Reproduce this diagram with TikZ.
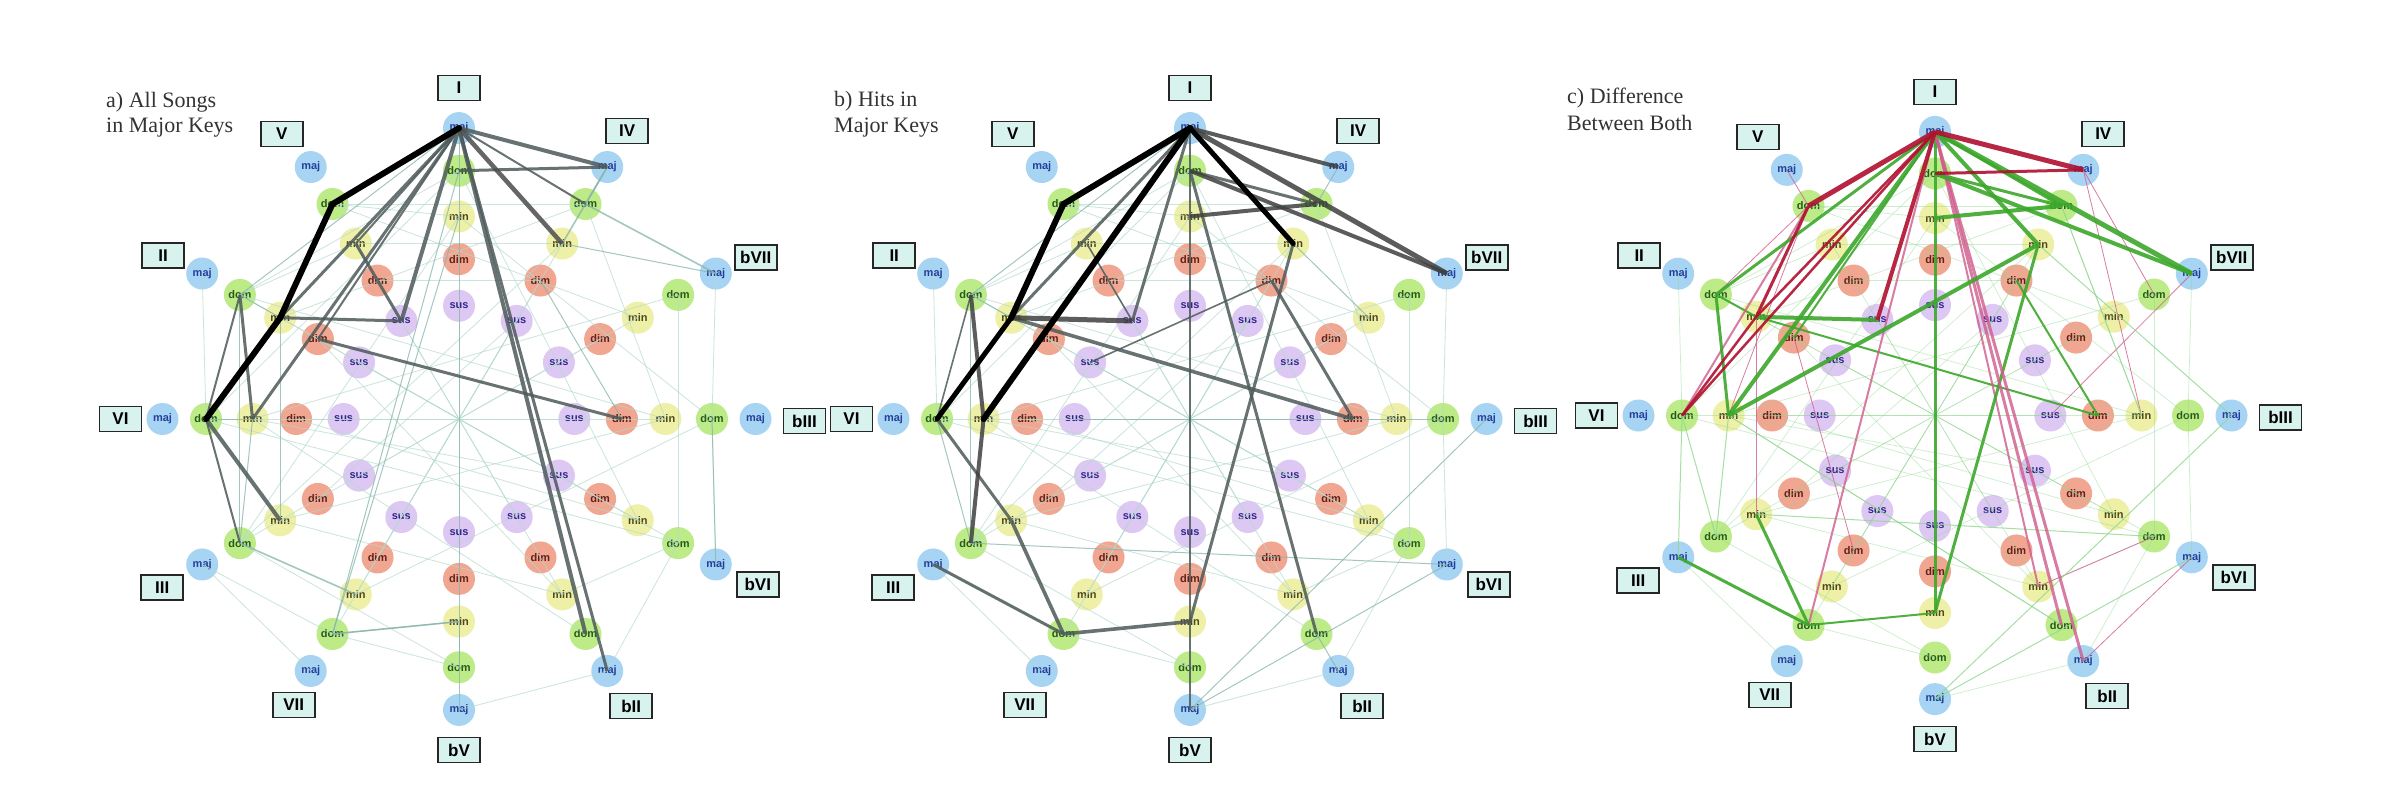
\documentclass[tikz,border=0pt]{standalone}
\usepackage{fontspec}
\setmainfont{Liberation Serif}
\setsansfont{Liberation Sans}
\definecolor{cmaj}{HTML}{A8D4F4}
\definecolor{cdom}{HTML}{BDEB88}
\definecolor{cmin}{HTML}{EEF0A8}
\definecolor{cdim}{HTML}{F0A690}
\definecolor{csus}{HTML}{DCC8F2}
\definecolor{tmaj}{HTML}{23409A}
\definecolor{tdom}{HTML}{285A1A}
\definecolor{tmin}{HTML}{504818}
\definecolor{tdim}{HTML}{60241A}
\definecolor{tsus}{HTML}{34268C}
\definecolor{lblfill}{HTML}{D8F2EE}
\definecolor{edgegray}{HTML}{4E5A5A}
\definecolor{edgeteal}{HTML}{86B4AC}
\definecolor{edgefaint}{HTML}{B4DACE}
\definecolor{ered}{HTML}{B01030}
\definecolor{epink}{HTML}{D05C8C}
\definecolor{egreen}{HTML}{3CA82C}
\definecolor{elgreen}{HTML}{90D890}
\tikzset{
  qbase/.style={circle, minimum size=32pt, inner sep=0pt, font=\sffamily\bfseries\fontsize{11}{11}\selectfont},
  qmaj/.style={qbase, fill=cmaj, text=tmaj},
  qdom/.style={qbase, fill=cdom, text=tdom},
  qmin/.style={qbase, fill=cmin, text=tmin},
  qdim/.style={qbase, fill=cdim, text=tdim},
  qsus/.style={qbase, fill=csus, text=tsus},
  lbl/.style={draw=black!85, line width=1.6pt, fill=lblfill, minimum width=42pt, minimum height=25pt, inner sep=2pt, font=\sffamily\bfseries\fontsize{17}{17}\selectfont},
  ttl/.style={anchor=base west, inner sep=0pt, text=black!80, font=\fontsize{22}{25}\selectfont},
  blk/.style={draw=black, line width=#1, line cap=round},
  gry/.style={draw=edgegray, opacity=0.85, line width=#1},
  thinE/.style={draw=edgeteal, opacity=0.75, line width=#1},
  faintE/.style={draw=edgefaint, opacity=0.7, line width=0.8pt},
  redE/.style={draw=ered, opacity=0.9, line width=#1},
  pinkE/.style={draw=epink, opacity=0.8, line width=#1},
  grnE/.style={draw=egreen, opacity=0.9, line width=#1},
  lgrnE/.style={draw=elgreen, opacity=0.8, line width=#1},
}
\newcommand\mkpanel[4]{%
  \foreach \r/\a/\dx/\dy in {I/0/0/-40, IV/30/20/-36, bVII/60/40/-16, bIII/90/49/2, bVI/120/42/20, bII/150/24/35, bV/180/0/40, VII/210/-17/34, III/240/-40/23, VI/270/-42/0, II/300/-39/-18, V/330/-29/-33}{%
    \foreach \q/\rad in {maj/293,dom/250,min/204,dim/161,sus/114}{%
      \node[q\q] (#1-\r-\q) at ({#2+1.012*\rad*sin(\a)},{#3-#4*\rad*cos(\a)}) {\q};
    }
    \node[lbl] (#1-\r-lbl) at ({#2+1.012*293*sin(\a)+\dx},{#3-#4*293*cos(\a)+\dy}) {\r};
  }%
}
\newcommand\edg[3]{\foreach \s/\t in {#3}{\draw[#2] (#1-\s.center) -- (#1-\t.center);}}
\newcommand\faintlist{II-dom/V-min, II-dom/I-dom, II-dom/bIII-min, II-min/IV-dom, V-dom/IV-dom, V-dom/I-min, V-min/IV-min, V-dim/IV-dim, VI-dom/bIII-sus, VI-min/bVI-sus, III-dom/bV-dom, III-min/bII-min, VII-min/bIII-dom, VI-dim/bIII-min, II-sus/bVI-dim, V-sus/bII-sus, I-sus/bV-sus, IV-dim/VII-dim, IV-sus/III-dim, bVII-dom/bVI-dom, bIII-dom/bVI-maj, bVII-min/III-sus, VII-dom/III-maj, bV-dom/VII-dom, bII-maj/bVI-dom, bVI-dom/bII-min, IV-dom/bIII-min, bVII-maj/bIII-dom, VI-dom/II-maj, III-maj/VII-maj, bV-maj/bII-maj, I-dom/VI-dom, I-min/III-dom, IV-min/VII-dom, bII-dom/VI-min, I-min/bIII-dom, V-dom/bVII-min, II-dom/bVI-min, VI-min/bVII-dom, III-dom/bVII-dim, VII-min/IV-sus, bVI-min/VI-dim, bII-min/II-dim, I-dom/bVI-min, V-min/bII-min, III-min/bIII-min, VI-dom/bVI-dom, II-min/bVI-dom, IV-min/III-dom}
\newcommand\drawfaint[1]{\foreach \s/\t in \faintlist {\draw[faintE] (#1-\s.center) -- (#1-\t.center);}}
\begin{document}
\begin{tikzpicture}[x=1pt,y=-1pt]
\useasboundingbox[fill=white] (0,0) rectangle (2381,802);
% titles
\node[ttl] (ta1) at (106,108) {a) All Songs};
\node[ttl] (ta2) at (106,133) {in Major Keys};
\node[ttl] (tb1) at (834,107) {b) Hits in};
\node[ttl] (tb2) at (834,133) {Major Keys};
\node[ttl] (tc1) at (1567,104) {c) Difference};
\node[ttl] (tc2) at (1567,131) {Between Both};
% panels
\mkpanel{a}{459}{419}{0.993}
\mkpanel{b}{1190}{419}{0.993}
\mkpanel{c}{1935}{415.5}{0.968}
% ---------- panel a edges
\drawfaint{a}
\edg{a}{thinE=1pt}{I-maj/bV-maj, I-min/VII-dom, IV-dim/bIII-dim, IV-min/bVII-maj, VII-dom/bV-min, II-dom/III-dom, II-min/III-min, VI-dom/VI-min, II-dom/II-min, I-maj/II-dom, bIII-dom/bVI-maj, I-dom/VII-dom, III-dom/VI-min, bV-min/bV-dom}
\edg{a}{thinE=1.6pt}{IV-dom/bVII-maj, IV-min/IV-maj, IV-dom/IV-maj, III-dom/VII-min, VII-dom/bV-min}
\edg{a}{gry=2pt}{I-maj/IV-dom, I-maj/V-min, II-dom/VI-dom, VI-dom/III-dom, I-maj/II-dim}
\edg{a}{gry=3pt}{I-dom/IV-maj, I-maj/bII-maj, V-min/V-sus, II-min/V-sus, I-maj/VI-min, I-maj/II-min, II-dim/bIII-dim, II-dom/VI-min}
\edg{a}{gry=4pt}{I-maj/IV-maj, I-maj/bII-dom, I-maj/V-sus, VI-dom/III-min}
\edg{a}{gry=4.5pt,draw=black!70}{I-maj/IV-min}
\edg{a}{blk=6pt}{I-maj/V-dom, V-dom/II-min, II-min/VI-dom}
% ---------- panel b edges
\drawfaint{b}
\edg{b}{thinE=1pt}{bIII-maj/bV-maj, bVI-maj/bV-maj, IV-dom/IV-maj, bIII-dom/VI-sus, II-dom/III-dom, VI-dom/III-dom, II-dom/II-min, I-maj/II-dom, bII-dom/bII-maj, III-dom/bVI-maj, IV-min/bVII-min}
\edg{b}{gry=1.6pt}{I-maj/bV-maj, II-dom/VI-dom, V-min/V-sus, IV-dim/II-sus}
\edg{b}{gry=3pt}{I-dom/IV-dom, VI-dom/III-min, III-maj/VII-dom, I-dom/bII-dom, IV-min/bV-min, IV-dim/bIII-dim, I-maj/V-sus, I-maj/II-min}
\edg{b}{gry=3.6pt}{III-min/VII-dom, VII-dom/bV-min, II-min/bIII-dim}
\edg{b}{gry=4pt,draw=black!75}{I-maj/IV-maj, I-min/IV-dom, II-dom/VI-min, VI-min/III-dom, I-dom/bVII-maj}
\edg{b}{gry=5pt,draw=black!75}{I-maj/bVII-maj, II-min/V-sus}
\edg{b}{blk=5pt}{II-min/VI-dom, I-maj/IV-min}
\edg{b}{blk=6pt}{I-maj/V-dom, V-dom/II-min, I-maj/VI-min}
% ---------- panel c edges
\foreach \s/\t in \faintlist {\draw[lgrnE=0.7pt, opacity=0.45] (c-\s.center) -- (c-\t.center);}
\edg{c}{pinkE=0.8pt}{bVI-maj/bII-maj, IV-maj/bVII-dom, V-maj/V-dom, II-dom/V-dom, V-dom/VI-min, II-min/III-min, IV-maj/bIII-min, bVII-maj/bIII-sus, II-dim/VII-dim, bII-min/bVI-dom}
\edg{c}{lgrnE=1pt}{bIII-maj/bV-maj, bVI-maj/bV-maj, VI-dom/III-maj, VI-dom/III-dom, VI-min/III-dom, IV-dom/bIII-min, IV-min/bIII-maj, bII-dom/VI-min, III-min/bVI-dom}
\edg{c}{grnE=2pt}{II-dom/II-min, VII-dom/bV-min, II-min/bIII-dim, IV-dim/bIII-dim, I-maj/II-dim}
\edg{c}{pinkE=2pt}{I-maj/VII-dom, V-dom/VI-dom, I-maj/bII-min}
\edg{c}{grnE=3pt}{I-maj/IV-dom, I-dom/IV-dom, I-maj/II-dom, II-dom/VI-min, IV-min/bV-min, I-maj/bV-min, III-maj/VII-dom, III-min/VII-dom}
\edg{c}{pinkE=3pt}{I-maj/bII-maj, I-maj/bII-dom}
\edg{c}{grnE=4pt}{I-maj/IV-min, I-min/IV-dom, I-maj/VI-min, II-min/V-sus, IV-min/VI-min, I-dom/bVII-maj}
\edg{c}{grnE=5pt}{I-maj/bVII-maj}
\edg{c}{redE=2.5pt}{II-min/VI-dom, I-maj/II-min, I-maj/VI-dom}
\edg{c}{redE=3pt}{V-dom/II-min, I-dom/IV-maj}
\edg{c}{redE=4pt}{I-maj/V-sus}
\edg{c}{redE=5pt}{I-maj/V-dom, I-maj/IV-maj}
\end{tikzpicture}
\end{document}
